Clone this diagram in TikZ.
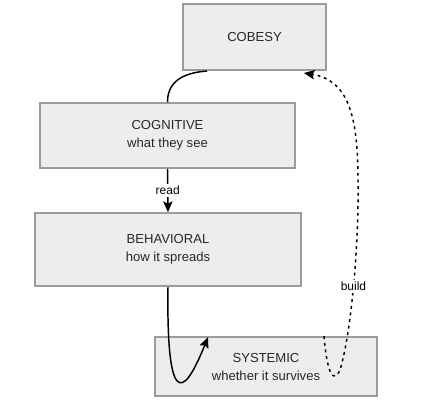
\documentclass[tikz,border=0pt]{standalone}
\usepackage{fontspec}
\setmainfont{Liberation Sans}
\usetikzlibrary{arrows.meta,calc,positioning}
\definecolor{boxF}{RGB}{237,237,237}
\definecolor{boxD}{RGB}{156,156,156}
\definecolor{txtK}{RGB}{40,40,40}

\begin{document}
\begin{tikzpicture}[x=0.75pt,y=-0.75pt,
  layer/.style={draw=boxD,fill=boxF,line width=1.5pt,align=center,text=txtK,
    font=\fontsize{9.8}{13.5}\selectfont,inner sep=0pt},
  link/.style={line width=1.1pt,-{Stealth[length=8pt,width=7pt,inset=1.5pt]}},
  lbl/.style={fill=white,inner sep=1.5pt,text=black,font=\fontsize{9}{10}\selectfont}]
\useasboundingbox (0,0) rectangle (440,408);
\node[layer,minimum width=107pt,minimum height=49.5pt] (cobesy) at (254.5,37) {COBESY};
\node[layer,minimum width=191pt,minimum height=48.5pt] (cog) at (167.5,135.5) {COGNITIVE\\what they see};
\node[layer,minimum width=199.5pt,minimum height=54.5pt] (beh) at (168,249.5) {BEHAVIORAL\\how it spreads};
\node[layer,minimum width=166.5pt,minimum height=44pt] (sys) at (266,366.5) {SYSTEMIC\\whether it survives};
\draw[line width=1.1pt] ($(cobesy.south west)+(25,0)$) .. controls ($(cobesy.south west)+(-3,2)$) and ($(cog.north)+(0,-18)$) .. (cog.north);
\draw[link] (cog.south) -- node[lbl] (readlbl) {read} (beh.north);
\draw[link] (beh.south) .. controls ($(beh.south)+(-2,139)$) and ($(sys.north west)+(35,48)$) .. ($(sys.north west)+(54,1)$);
\draw[link,dash pattern=on 2.2pt off 2.8pt] ($(sys.north east)+(-54,0)$) .. controls (327,372) and (333,385) .. (340,370)
  .. controls (352,330) and (359,240) .. node[lbl,pos=0.48] (buildlbl) {build} (358,180)
  .. controls (358,115) and (348,80) .. ($(cobesy.south east)+(-23,2)$);
\end{tikzpicture}
\end{document}
